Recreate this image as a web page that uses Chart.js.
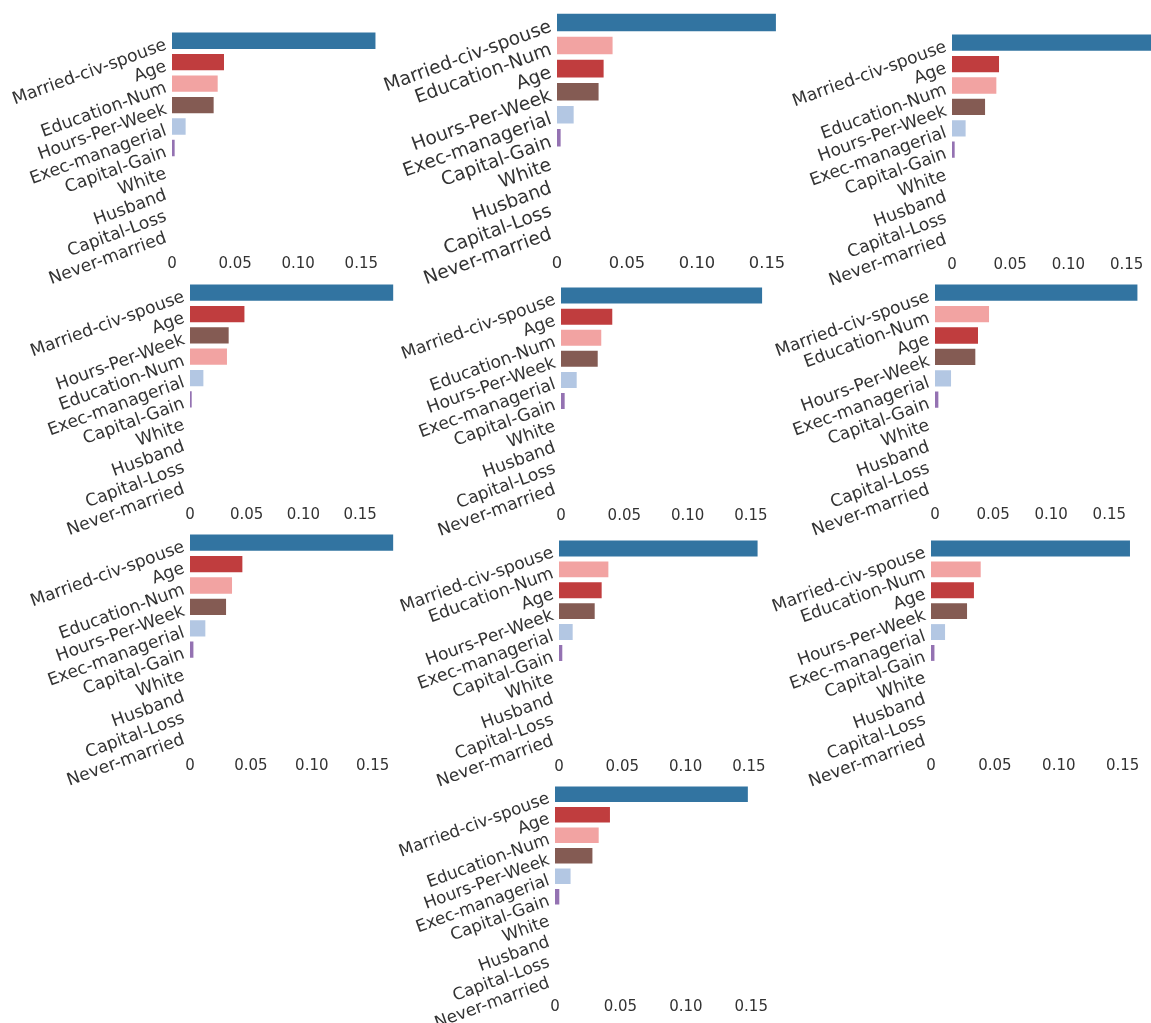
<!DOCTYPE html>
<html>
<head>
<meta charset="utf-8">
<script src="https://cdn.jsdelivr.net/npm/chart.js@4.4.1/dist/chart.umd.min.js"></script>
<style>
  html, body { margin: 0; padding: 0; background: #fff; overflow: hidden; }
  body { width: 1151px; height: 1023px; position: relative; }
  canvas { position: absolute; }
</style>
</head>
<body>
<script>
// feature names, in a fixed base order (each panel sorts them by value)
var features = ["Married-civ-spouse", "Age", "Education-Num", "Hours-Per-Week", "Exec-managerial",
                "Capital-Gain", "White", "Husband", "Capital-Loss", "Never-married"];
var featureColors = ["#3274a1", "#c03d3e", "#f2a3a2", "#845b53", "#b3c7e3",
                     "#9472b2", "#e1812c", "#3a923a", "#d68ec4", "#7f7f7f"];

var xTicks = [0, 0.05, 0.10, 0.15];
var xTickLabels = ["0", "0.05", "0.10", "0.15"];

// importances per panel, same order as features
var imp1  = [0.1614, 0.0412, 0.0362, 0.0330, 0.0108, 0.0021, 0, 0, 0, 0];
var imp2  = [0.1564, 0.0333, 0.0397, 0.0297, 0.0119, 0.0026, 0, 0, 0, 0];
var imp3  = [0.1760, 0.0404, 0.0381, 0.0284, 0.0117, 0.0023, 0, 0, 0, 0];
var imp4  = [0.1794, 0.0480, 0.0326, 0.0341, 0.0118, 0.0015, 0, 0, 0, 0];
var imp5  = [0.1590, 0.0405, 0.0318, 0.0290, 0.0124, 0.0029, 0, 0, 0, 0];
var imp6  = [0.1744, 0.0370, 0.0465, 0.0347, 0.0138, 0.0029, 0, 0, 0, 0];
var imp7  = [0.1670, 0.0430, 0.0345, 0.0296, 0.0126, 0.0028, 0, 0, 0, 0];
var imp8  = [0.1570, 0.0337, 0.0390, 0.0282, 0.0108, 0.0026, 0, 0, 0, 0];
var imp9  = [0.1557, 0.0336, 0.0389, 0.0282, 0.0110, 0.0027, 0, 0, 0, 0];
var imp10 = [0.1474, 0.0420, 0.0334, 0.0286, 0.0119, 0.0033, 0, 0, 0, 0];

// panel boxes: x of zero, top/bottom of category band, px per 0.05, tick gap, fonts
var panels = [
  [imp1,  172,   29.8, 244.3, 63.1, 18.7, 17.2, 15],
  [imp2,  556.7, 10.5, 241,   70,   21,   18.7, 16.3],
  [imp3,  951.7, 31.5, 245.5, 58.2, 18.5, 17.2, 15],
  [imp4,  190.3, 281.8, 495.3, 56.7, 19,  17.2, 15],
  [imp5,  561,   284.6, 495.6, 63.3, 19.4, 17.2, 15],
  [imp6,  935,   281.5, 495.5, 58.1, 18.8, 17.2, 15],
  [imp7,  190.3, 532.3, 746.3, 60.9, 19.4, 17.2, 15],
  [imp8,  559,   538.2, 747.2, 63.3, 19.5, 17.1, 15],
  [imp9,  931.3, 538,   747,   63.9, 18.7, 17.1, 15],
  [imp10, 555,   783.75, 988.75, 65.8, 17.3, 16.8, 15]
];

var L = 190, T = 25, R = 25, B = 80, XH = 40;

function drawPanel(p) {
  var values = p[0], x0 = p[1], top = p[2], bottom = p[3], px05 = p[4];
  var gap = p[5], yFont = p[6], xFont = p[7];

  var idx = features.map(function (f, i) { return i; });
  idx.sort(function (a, b) { return values[b] - values[a]; });

  var xmax = Math.max(Math.max.apply(null, values), xTicks[xTicks.length - 1]);
  var plotW = xmax / 0.05 * px05;
  var catH = bottom - top;

  var c = document.createElement("canvas");
  var w = Math.round(L + plotW + R);
  var h = Math.round(T + catH + B);
  c.width = w; c.height = h;
  c.style.left = Math.round(x0 - L) + "px";
  c.style.top = Math.round(top - T) + "px";
  document.body.appendChild(c);

  new Chart(c, {
    type: "bar",
    data: {
      labels: idx.map(function (i) { return features[i]; }),
      datasets: [{
        data: idx.map(function (i) { return values[i]; }),
        backgroundColor: idx.map(function (i) { return featureColors[i]; }),
        borderWidth: 0,
        barPercentage: 0.76,
        categoryPercentage: 1
      }]
    },
    options: {
      indexAxis: "y",
      responsive: false,
      animation: false,
      layout: { padding: { left: 0, top: T, right: w - L - plotW, bottom: h - T - catH - XH } },
      plugins: { legend: { display: false }, tooltip: { enabled: false } },
      scales: {
        x: {
          type: "linear",
          min: 0,
          max: xmax,
          grid: { display: false, drawTicks: false },
          border: { display: false },
          afterBuildTicks: function (s) { s.ticks = xTicks.map(function (v) { return { value: v }; }); },
          afterFit: function (s) { s.height = XH; },
          ticks: {
            autoSkip: false,
            maxRotation: 0,
            padding: gap - xFont * 0.55,
            color: "#333",
            font: { family: "DejaVu Sans", size: xFont },
            callback: function (v) { return xTickLabels[xTicks.indexOf(v)]; }
          }
        },
        y: {
          type: "category",
          grid: { display: false, drawTicks: false },
          border: { display: false },
          afterFit: function (s) { s.width = L; },
          ticks: {
            autoSkip: false,
            minRotation: 20,
            maxRotation: 20,
            padding: 6,
            labelOffset: 4,
            color: "#333",
            font: { family: "DejaVu Sans", size: yFont }
          }
        }
      }
    }
  });
}

panels.forEach(drawPanel);
</script>
</body>
</html>
